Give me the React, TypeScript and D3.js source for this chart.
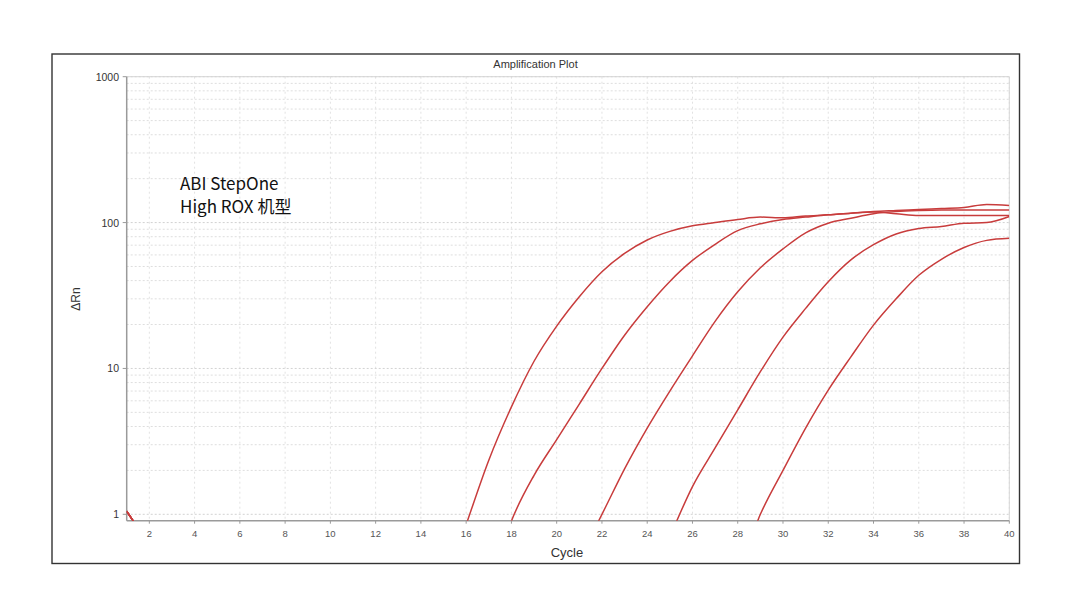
import React from 'react'
import * as d3 from 'd3'

// ΔRn per cycle (cycles 1..40)
const CURVE_A = [1.05, 0.6, 0.3, 0.3, 0.3, 0.3, 0.3, 0.3, 0.3, 0.3, 0.3, 0.3, 0.3, 0.3, 0.3, 0.85, 2.35, 5.45, 11.2, 19.5, 31, 46, 61.5, 76, 87, 95, 100, 105, 109, 108, 111, 113, 116, 118, 115, 112, 112, 112, 112, 112]
const CURVE_B = [1.05, 0.6, 0.3, 0.3, 0.3, 0.3, 0.3, 0.3, 0.3, 0.3, 0.3, 0.3, 0.3, 0.3, 0.3, 0.3, 0.3, 0.9, 1.85, 3.25, 5.7, 10, 16.9, 26.5, 39.5, 55, 71, 88, 98, 105, 109, 113, 116, 119, 121, 123, 125, 127, 133, 131]
const CURVE_C = [1.05, 0.6, 0.3, 0.3, 0.3, 0.3, 0.3, 0.3, 0.3, 0.3, 0.3, 0.3, 0.3, 0.3, 0.3, 0.3, 0.3, 0.3, 0.3, 0.3, 0.5, 1.0, 2.05, 3.9, 7.0, 12.2, 21, 33.5, 49, 66, 85, 99, 107, 115, 119, 121, 122, 122, 122, 122]
const CURVE_D = [1.05, 0.6, 0.3, 0.3, 0.3, 0.3, 0.3, 0.3, 0.3, 0.3, 0.3, 0.3, 0.3, 0.3, 0.3, 0.3, 0.3, 0.3, 0.3, 0.3, 0.3, 0.3, 0.3, 0.3, 0.7, 1.55, 2.85, 5.2, 9.5, 16.4, 25.8, 39.3, 55.5, 70.5, 83.5, 91, 94, 99, 100, 110]
const CURVE_E = [1.05, 0.6, 0.3, 0.3, 0.3, 0.3, 0.3, 0.3, 0.3, 0.3, 0.3, 0.3, 0.3, 0.3, 0.3, 0.3, 0.3, 0.3, 0.3, 0.3, 0.3, 0.3, 0.3, 0.3, 0.3, 0.3, 0.3, 0.4, 1.0, 2.0, 3.9, 7.1, 12.0, 19.8, 30, 43.5, 56, 67.5, 75.5, 78]

const SERIES = [CURVE_A, CURVE_B, CURVE_C, CURVE_D, CURVE_E]

const X_TICKS = [2, 4, 6, 8, 10, 12, 14, 16, 18, 20, 22, 24, 26, 28, 30, 32, 34, 36, 38, 40]
const Y_TICKS = [1, 10, 100, 1000]
const Y_MINOR = [2, 3, 4, 5, 6, 7, 8, 9]

const TITLE = 'Amplification Plot'
const X_LABEL = 'Cycle'
const Y_LABEL = 'ΔRn'
const NOTE = ['ABI StepOne', 'High ROX 机型']

export default function App() {
  const width = 1080
  const height = 609
  const plot = { left: 126.7, right: 1009.3, top: 76.7, bottom: 520.7 }

  const x = d3.scaleLinear().domain([1, 40]).range([plot.left, plot.right])
  const y = d3.scaleLog().domain([0.904, 1000]).range([plot.bottom, plot.top])

  const line = d3
    .line<number>()
    .x((_, i) => x(i + 1))
    .y(d => y(d))
    .curve(d3.curveMonotoneX)

  // minor grid: 2..9 in each decade
  const minorLines: number[] = []
  ;[1, 10, 100].forEach(dec => Y_MINOR.forEach(m => minorLines.push(dec * m)))

  const font = '"Liberation Sans", Arial, sans-serif'

  return (
    <svg
      width={width}
      height={height}
      style={{ position: 'absolute', left: 0, top: 0, background: '#fff' }}
    >
      <defs>
        <clipPath id="plot-clip">
          <rect x={plot.left} y={plot.top} width={plot.right - plot.left} height={plot.bottom - plot.top} />
        </clipPath>
      </defs>

      {/* outer frame */}
      <rect x={52} y={54} width={967.5} height={509.5} fill="#fff" stroke="#333" strokeWidth={1.4} />

      <text x={535.5} y={67.5} textAnchor="middle" fontFamily={font} fontSize={11} fill="#333">
        {TITLE}
      </text>

      {/* grid */}
      {X_TICKS.map(t => (
        <line key={'vx' + t} x1={x(t)} x2={x(t)} y1={plot.top} y2={plot.bottom}
          stroke="#e2e2e2" strokeWidth={1} strokeDasharray="2,3" />
      ))}
      {minorLines.map(v => (
        <line key={'hm' + v} x1={plot.left} x2={plot.right} y1={y(v)} y2={y(v)}
          stroke="#dedede" strokeWidth={1} strokeDasharray="2,2" />
      ))}
      {Y_TICKS.map(v => (
        <line key={'hM' + v} x1={plot.left} x2={plot.right} y1={y(v)} y2={y(v)}
          stroke="#d2d2d2" strokeWidth={1} strokeDasharray="2,2" />
      ))}

      {/* plot border: light top/right, darker axes */}
      <line x1={plot.left} x2={plot.right} y1={plot.top} y2={plot.top} stroke="#d6d6d6" strokeWidth={1} />
      <line x1={plot.right} x2={plot.right} y1={plot.top} y2={plot.bottom} stroke="#d6d6d6" strokeWidth={1} />
      <line x1={plot.left} x2={plot.left} y1={plot.top} y2={plot.bottom} stroke="#9a9a9a" strokeWidth={1.5} />
      <line x1={plot.left} x2={plot.right} y1={plot.bottom} y2={plot.bottom} stroke="#9a9a9a" strokeWidth={1.5} />

      {/* curves */}
      <g clipPath="url(#plot-clip)">
        {SERIES.map((s, i) => (
          <path key={i} d={line(s) || ''} fill="none" stroke="#c83c3c" strokeWidth={1.5} strokeLinejoin="round" />
        ))}
      </g>

      {/* x ticks */}
      {X_TICKS.map(t => (
        <g key={'xt' + t}>
          <line x1={x(t)} x2={x(t)} y1={plot.bottom} y2={plot.bottom + 3} stroke="#9a9a9a" />
          <text x={x(t)} y={537} textAnchor="middle" fontFamily={font} fontSize={9.5} fill="#555">
            {t}
          </text>
        </g>
      ))}

      {/* y ticks */}
      {Y_TICKS.map(v => (
        <g key={'yt' + v}>
          <line x1={plot.left - 4} x2={plot.left} y1={y(v)} y2={y(v)} stroke="#9a9a9a" />
          <text x={119} y={y(v) + 4} textAnchor="end" fontFamily={font} fontSize={10.5} fill="#333">
            {v}
          </text>
        </g>
      ))}

      <text x={567} y={557} textAnchor="middle" fontFamily={font} fontSize={13} fill="#333">
        {X_LABEL}
      </text>
      <text transform="translate(80,299) rotate(-90)" textAnchor="middle" fontFamily={font} fontSize={12} fill="#333">
        {Y_LABEL}
      </text>

      {NOTE.map((t, i) => (
        <text key={t} x={180} y={189.5 + i * 23} fontFamily='"Noto Sans CJK SC", "Noto Sans", sans-serif' fontSize={17} fill="#111">
          {t}
        </text>
      ))}
    </svg>
  )
}
